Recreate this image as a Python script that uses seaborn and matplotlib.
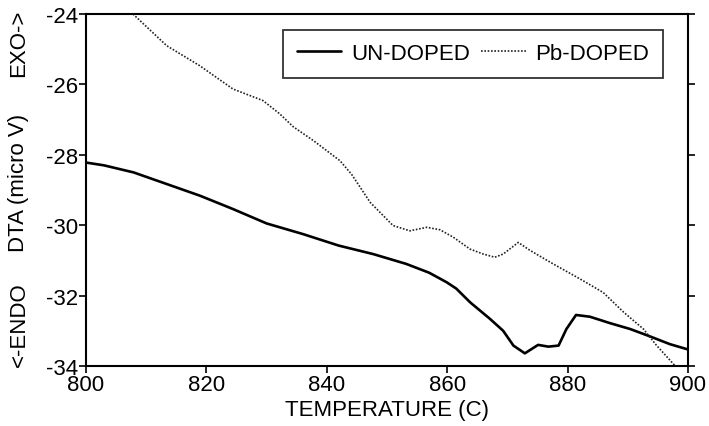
import pandas as pd
import matplotlib.pyplot as plt
import seaborn as sns

# DTA traces
temp_undoped = [800, 803, 807.9, 813.4, 818.9, 824.4, 830, 836, 842, 847.7, 853.2, 857, 859.9, 861.5,
                863.8, 867.1, 869.3, 871.0, 872.9, 875.1, 876.8, 878.5, 879.8, 881.4, 883.7, 887.0,
                890.4, 893.7, 897.0, 900]
dta_undoped = [-28.22, -28.3, -28.5, -28.83, -29.16, -29.54, -29.95, -30.25, -30.58, -30.82, -31.1,
               -31.35, -31.62, -31.8, -32.19, -32.66, -33.0, -33.42, -33.64, -33.4, -33.45, -33.42,
               -32.95, -32.55, -32.6, -32.78, -32.95, -33.16, -33.38, -33.53]

temp_doped = [807.8, 813.4, 818.9, 824.4, 829.4, 832.2, 834.4, 837.8, 842.2, 844.1, 847.2, 851.0, 853.8,
              856.6, 858.8, 861.0, 863.8, 866.0, 867.9, 869.3, 871.8, 873.8, 877.6, 882.1, 885.9,
              889.3, 892.6, 894.8, 898.1]
dta_doped = [-24.0, -24.9, -25.47, -26.13, -26.46, -26.84, -27.2, -27.6, -28.17, -28.55, -29.35, -30.01,
             -30.16, -30.06, -30.13, -30.34, -30.68, -30.82, -30.91, -30.82, -30.49, -30.72, -31.1, -31.53,
             -31.91, -32.47, -32.95, -33.42, -34.04]

undoped = pd.DataFrame({"T": temp_undoped, "DTA": dta_undoped})
doped = pd.DataFrame({"T": temp_doped, "DTA": dta_doped})

sns.set_style("ticks")
plt.rcParams['font.family'] = ['Liberation Sans', 'DejaVu Sans']
plt.rcParams['axes.unicode_minus'] = False
plt.rcParams['text.color'] = 'black'

fig, ax = plt.subplots(figsize=(7.09, 4.27), dpi=100)
fig.subplots_adjust(left=86/709, right=688/709, top=1-15/427, bottom=1-367/427)

sns.lineplot(data=undoped, x="T", y="DTA", ax=ax, color="black", linewidth=1.9, label="UN-DOPED")
sns.lineplot(data=doped, x="T", y="DTA", ax=ax, color="#222222", linewidth=1.2,
             linestyle=(0, (1, 1)), label="Pb-DOPED")

ax.set_xlim(800, 900)
ax.set_ylim(-34, -24)
ax.set_xticks([800, 820, 840, 860, 880, 900])
ax.set_yticks([-34, -32, -30, -28, -26, -24])
ax.tick_params(axis='both', labelsize=16, length=5, width=1.2, direction='out', pad=1,
               labelcolor='black', color='black')
ax.tick_params(axis='y', right=True)
for s in ax.spines.values():
    s.set_linewidth(1.5)
    s.set_color('black')
    s.set_visible(True)

ax.set_xlabel("TEMPERATURE (C)", fontsize=16, labelpad=3, color='black')
ax.set_ylabel("")
fig.text(19/709, 1-325/427, "<-ENDO", rotation=90, fontsize=16, ha='center', va='center', color='black')
fig.text(19/709, 1-183/427, "DTA (micro V)", rotation=90, fontsize=16, ha='center', va='center', color='black')
fig.text(19/709, 1-43/427, "EXO->", rotation=90, fontsize=16, ha='center', va='center', color='black')

leg = ax.legend(loc='upper right', bbox_to_anchor=(0.958, 0.955), ncol=2, fontsize=16,
                frameon=True, fancybox=False, edgecolor='black', handlelength=2.0,
                columnspacing=0.5, handletextpad=0.45, borderpad=0.6, borderaxespad=0)
leg.get_frame().set_linewidth(1.3)

plt.savefig("out.png", dpi=100)
